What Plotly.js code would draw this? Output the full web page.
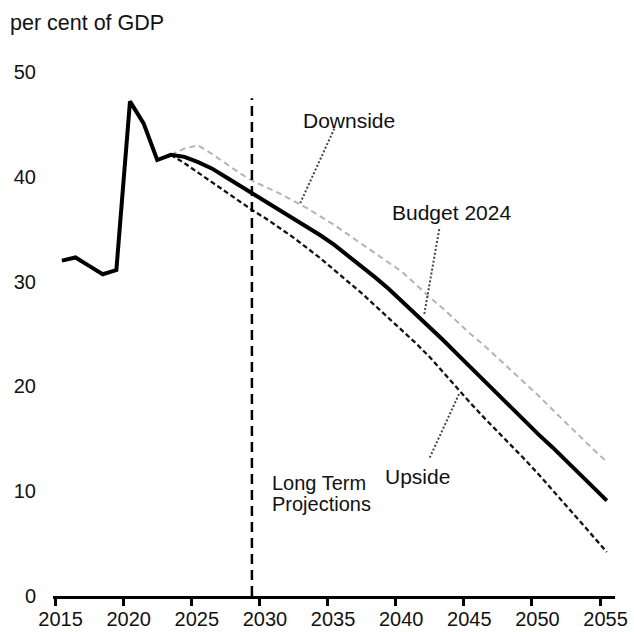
<!DOCTYPE html>
<html>
<head>
<meta charset="utf-8">
<script src="https://cdn.plot.ly/plotly-3.0.1.min.js"></script>
<style>html,body{margin:0;padding:0;background:#fff;}</style>
</head>
<body>
<div id="chart" style="width:634px;height:632px;"></div>
<script>
// Fiscal years (plotted at mid-year)
const budgetYears = [2015,2016,2017,2018,2019,2020,2021,2022,2023,2024,2025,2026,2027,2028,2029,2030,2031,2032,2033,2034,2035,2036,2037,2038,2039,2040,2041,2042,2043,2044,2045,2046,2047,2048,2049,2050,2051,2052,2053,2054,2055];
const budget2024 = [32.0,32.3,31.5,30.7,31.1,47.2,45.1,41.6,42.1,41.9,41.4,40.8,40.0,39.2,38.4,37.7,36.9,36.1,35.3,34.4,33.5,32.5,31.5,30.4,29.3,28.1,26.9,25.7,24.4,23.1,21.8,20.5,19.2,17.9,16.7,15.4,14.2,12.9,11.7,10.4,9.1];

const scenarioYears = [2023,2024,2025,2026,2027,2028,2029,2030,2031,2032,2033,2034,2035,2036,2037,2038,2039,2040,2041,2042,2043,2044,2045,2046,2047,2048,2049,2050,2051,2052,2053,2054,2055];
const downside = [42.1,42.7,43.0,42.2,41.3,40.4,39.6,39.0,38.4,37.7,37.0,36.2,35.4,34.5,33.6,32.7,31.8,30.9,29.7,28.5,27.4,26.2,25.0,23.9,22.7,21.5,20.3,19.1,17.8,16.5,15.2,14.0,12.8];
const upside = [42.1,41.3,40.4,39.5,38.6,37.7,36.8,36.0,35.1,34.2,33.2,32.2,31.1,30.0,28.9,27.7,26.5,25.3,24.1,22.8,21.3,19.8,18.4,17.0,15.7,14.4,13.0,11.6,10.1,8.7,7.2,5.7,4.2];

const xTicks = [2015,2020,2025,2030,2035,2040,2045,2050,2055];
const yTicks = [0,10,20,30,40,50];
const projectionStart = 2029.45;

const mid = ys => ys.map(y => y + 0.5);
const FONT = 'Liberation Sans, Arial, sans-serif';
const NB = '\u00a0\u00a0';

const traces = [
  {x: mid(scenarioYears), y: downside, mode: 'lines', name: 'Downside',
   line: {color: '#b4b4b4', width: 2, dash: '6px,4px'}},
  {x: mid(scenarioYears), y: upside, mode: 'lines', name: 'Upside',
   line: {color: '#111111', width: 2.3, dash: '5px,3px'}},
  {x: mid(budgetYears), y: budget2024, mode: 'lines', name: 'Budget 2024',
   line: {color: '#000000', width: 4}}
];

const dotLine = {color: '#444', width: 2, dash: '2px,2px'};
const layout = {
  width: 634, height: 632, autosize: false,
  margin: {l: 53, r: 19, t: 72, b: 36},
  paper_bgcolor: '#fff', plot_bgcolor: '#fff',
  showlegend: false,
  font: {family: FONT, size: 20, color: '#111'},
  title: {text: 'per cent of GDP', xref: 'container', yref: 'container',
          x: 10/634, xanchor: 'left', y: 1 - 22/632, yanchor: 'middle',
          font: {family: FONT, size: 21.5, color: '#111'}},
  xaxis: {range: [2014.85, 2056.1], tickvals: xTicks, ticktext: xTicks.map(t => NB + t),
          showgrid: false, zeroline: false, showline: true, linecolor: '#000', linewidth: 3,
          ticks: 'outside', ticklen: 7, tickwidth: 3, tickcolor: '#000',
          ticklabelstandoff: -4,
          tickfont: {family: FONT, size: 20, color: '#111'}, fixedrange: true},
  yaxis: {range: [0, 50], tickvals: yTicks, ticktext: yTicks.map(String),
          showgrid: false, zeroline: false, showline: false, ticks: '',
          ticklabelstandoff: 16,
          tickfont: {family: FONT, size: 20, color: '#111'}, fixedrange: true},
  shapes: [
    {type: 'line', xref: 'x', yref: 'y', x0: projectionStart, x1: projectionStart, y0: 0, y1: 47.5,
     line: {color: '#000', width: 2.5, dash: '10px,6px'}},
    {type: 'line', xref: 'x', yref: 'y', x0: 2035.5, y0: 44.6, x1: 2033.0, y1: 37.5, line: dotLine},
    {type: 'line', xref: 'x', yref: 'y', x0: 2043.2, y0: 35.0, x1: 2042.1, y1: 26.9, line: dotLine},
    {type: 'line', xref: 'x', yref: 'y', x0: 2042.5, y0: 13.2, x1: 2044.7, y1: 19.4, line: dotLine}
  ],
  annotations: [
    {text: 'Downside', x: 2036.6, y: 45.4, xref: 'x', yref: 'y', showarrow: false,
     font: {family: FONT, size: 21, color: '#111'}},
    {text: 'Budget 2024', x: 2044.1, y: 36.6, xref: 'x', yref: 'y', showarrow: false,
     font: {family: FONT, size: 21, color: '#111'}},
    {text: 'Upside', x: 2041.6, y: 11.4, xref: 'x', yref: 'y', showarrow: false,
     font: {family: FONT, size: 21, color: '#111'}},
    {text: 'Long Term', x: 2030.75, y: 10.8, xref: 'x', yref: 'y', xanchor: 'left', showarrow: false,
     font: {family: FONT, size: 20, color: '#111'}},
    {text: 'Projections', x: 2030.75, y: 8.8, xref: 'x', yref: 'y', xanchor: 'left', showarrow: false,
     font: {family: FONT, size: 20, color: '#111'}}
  ]
};

Plotly.newPlot('chart', traces, layout, {displayModeBar: false, staticPlot: true});
</script>
</body>
</html>
